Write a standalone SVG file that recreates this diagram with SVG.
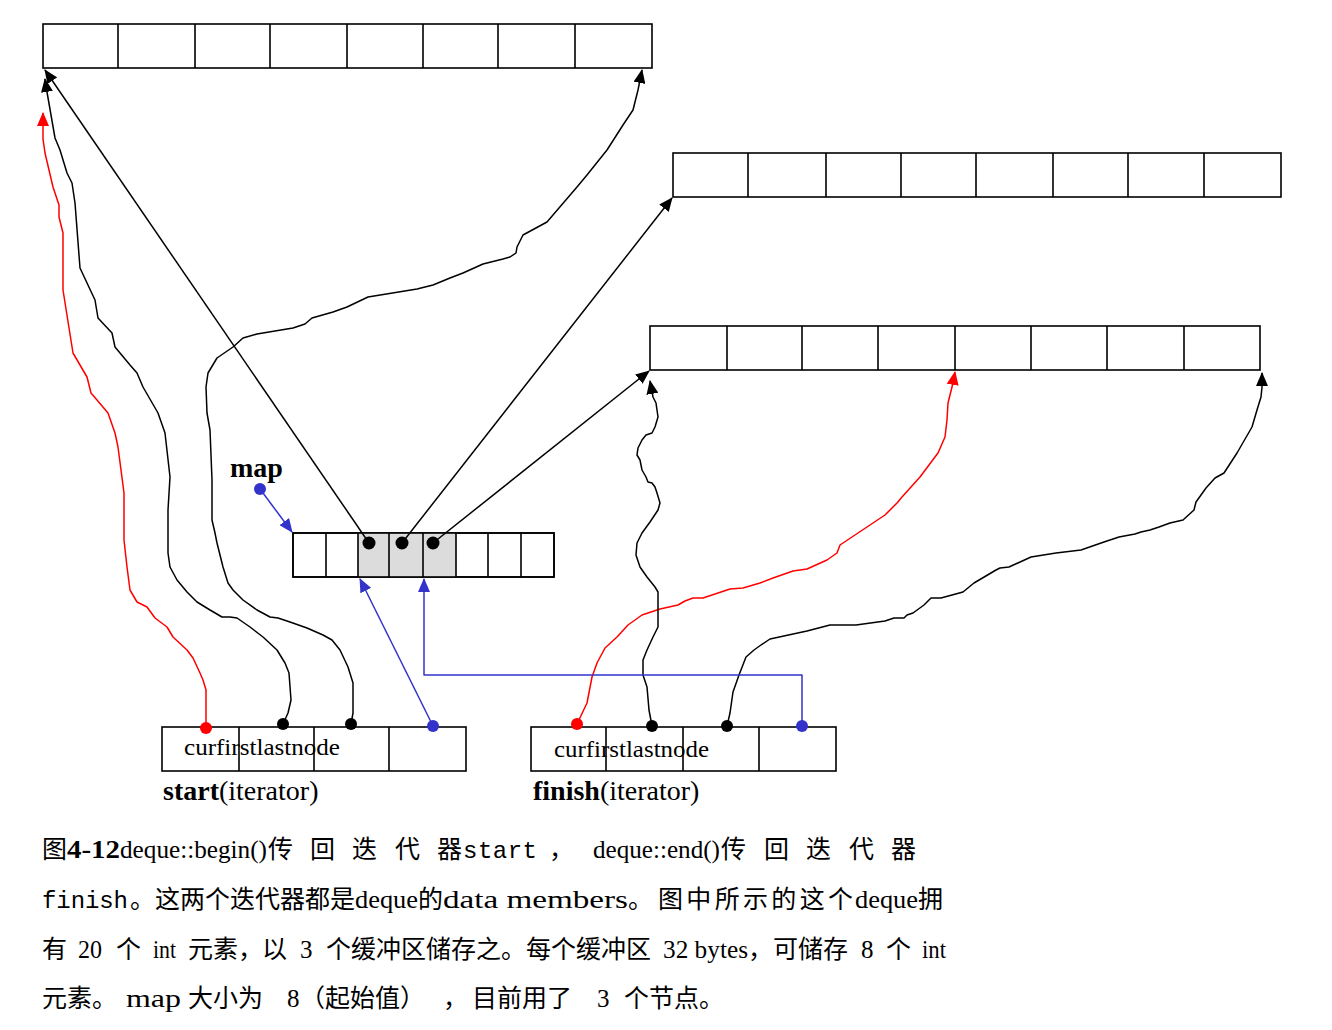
<svg xmlns="http://www.w3.org/2000/svg" width="1332" height="1030" viewBox="0 0 1332 1030">
<style>
.box{fill:#fff;stroke:#000;stroke-width:1.6}
.cell{stroke:#000;stroke-width:1.6}
.sh{fill:#dcdcdc}
.k{fill:none;stroke:#000;stroke-width:1.5;stroke-linejoin:round;marker-end:url(#aK)}
.r{fill:none;stroke:#f00;stroke-width:1.5;stroke-linejoin:round;marker-end:url(#aR)}
.b{fill:none;stroke:#3333cc;stroke-width:1.5;stroke-linejoin:round;marker-end:url(#aB)}
.dk{fill:#000}.dr{fill:#f00}.db{fill:#3333cc}
.se{font-family:"Liberation Serif","Times New Roman",serif;font-size:25px;fill:#000}
.sb{font-family:"Liberation Serif","Times New Roman",serif;font-size:25px;font-weight:bold;fill:#000}
.mo{font-family:"Liberation Mono","Courier New",monospace;font-size:24px;fill:#000}
.cj{font-family:"Noto Sans CJK SC","Noto Sans",sans-serif;font-size:25px;fill:#000}
.lb{font-family:"Liberation Serif","Times New Roman",serif;font-size:24px;fill:#000}
.big{font-family:"Liberation Serif","Times New Roman",serif;font-size:28px;fill:#000}
</style>
<defs>
<marker id="aK" markerWidth="14" markerHeight="12" refX="13" refY="6" orient="auto" markerUnits="userSpaceOnUse"><path d="M0,0 L14,6 L0,12 z" fill="#000"/></marker>
<marker id="aR" markerWidth="14" markerHeight="12" refX="13" refY="6" orient="auto" markerUnits="userSpaceOnUse"><path d="M0,0 L14,6 L0,12 z" fill="#f00"/></marker>
<marker id="aB" markerWidth="14" markerHeight="12" refX="13" refY="6" orient="auto" markerUnits="userSpaceOnUse"><path d="M0,0 L14,6 L0,12 z" fill="#3333cc"/></marker>
</defs>

<g id="buffer1">
<rect class="box" x="43" y="24" width="609" height="44"/>
<path class="cell" d="M118,24V68M195,24V68M270,24V68M347,24V68M423,24V68M498,24V68M575,24V68"/>
</g>
<g id="buffer2">
<rect class="box" x="673" y="153" width="608" height="44"/>
<path class="cell" d="M748,153V197M826,153V197M901,153V197M976,153V197M1053,153V197M1128,153V197M1204,153V197"/>
</g>
<g id="buffer3">
<rect class="box" x="650" y="326" width="610" height="44"/>
<path class="cell" d="M727,326V370M802,326V370M878,326V370M955,326V370M1031,326V370M1107,326V370M1184,326V370"/>
</g>
<g id="map">
<text class="big" x="230" y="477" font-weight="bold">map</text>
<rect class="box" x="293" y="533" width="261" height="44"/>
<rect class="sh" x="358" y="533" width="98" height="44"/>
<rect x="293" y="533" width="261" height="44" fill="none" stroke="#000" stroke-width="1.6"/>
<path class="cell" d="M326,533V577M358,533V577M389,533V577M423,533V577M456,533V577M488,533V577M521,533V577"/>
</g>
<g id="start">
<rect class="box" x="162" y="727" width="304" height="44"/>
<path class="cell" d="M239,727V771M314,727V771M389,727V771"/>
<text class="lb" x="184" y="755" textLength="156" lengthAdjust="spacingAndGlyphs">curfirstlastnode</text>
<text class="big" x="163" y="800"><tspan font-weight="bold">start</tspan>(iterator)</text>
</g>
<g id="finish">
<rect class="box" x="531" y="727" width="305" height="44"/>
<path class="cell" d="M606,727V771M683,727V771M759,727V771"/>
<text class="lb" x="554" y="757" textLength="155" lengthAdjust="spacingAndGlyphs">curfirstlastnode</text>
<text class="big" x="533" y="800"><tspan font-weight="bold">finish</tspan>(iterator)</text>
</g>

<g id="connectors">
<path class="r" d="M206,728 L206,690 203,680 200,673 193,658 187,650 173,637 167,627 155,618 147,607 137,602 130,590 127,567 124,540 124,493 118,447 115,433 108,413 97,400 91,393 87,377 73,353 63,290 63,233 59,217 59,205 53,187 45,153 43,139 43,113"/>
<path class="k" d="M283,724 L288,713 291,700 289,673 285,663 277,650 263,637 250,627 237,618 230,617 222,617 210,610 197,602 187,592 177,580 170,567 168,553 168,510 170,477 165,433 158,413 143,387 137,373 130,365 115,347 112,333 98,318 95,300 80,268 75,203 72,183 67,173 60,150 55,138 47,92 45,79"/>
<path class="k" d="M351,724 L353,713 353,683 348,667 340,650 332,640 323,635 307,628 290,622 278,618 270,617 257,610 243,600 233,590 228,583 223,567 217,543 215,533 212,520 212,480 210,430 207,413 206,387 208,373 217,358 233,347 243,338 257,334 293,328 305,324 312,318 333,312 347,307 368,297 417,289 433,285 450,278 463,273 483,264 503,259 510,257 516,253 517,247 523,235 547,222 553,215 577,187 587,175 607,150 623,125 633,110 638,90 642,70"/>
<path class="b" d="M433,726 L360,579"/>
<path class="k" d="M369,543 L45,70"/>
<path class="k" d="M402,543 L672,198"/>
<path class="k" d="M433,543 L649,371"/>
<path class="b" d="M260,489 L292,532"/>
<path class="r" d="M577,724 L587,703 592,677 597,663 605,648 617,637 628,625 642,615 660,609 678,605 685,601 693,598 703,598 730,589 743,588 760,583 773,578 793,571 807,569 827,560 837,553 840,545 885,515 897,503 902,497 920,477 938,453 945,437 947,420 948,403 953,383 955,372"/>
<path class="k" d="M652,726 L649,710 647,687 643,675 643,660 647,650 653,637 658,627 658,592 655,587 647,577 640,567 636,555 637,543 642,533 650,522 658,510 660,503 657,493 655,487 652,483 648,482 646,477 642,470 640,460 637,455 638,448 642,440 646,435 652,433 655,427 658,417 656,403 653,397 650,381"/>
<path class="k" d="M727,726 L730,713 733,692 739,675 746,657 754,650 761,645 770,639 807,631 830,625 856,625 885,621 894,618 904,618 907,615 913,613 924,605 931,598 941,598 963,592 974,583 996,570 1000,568 1009,567 1031,557 1056,553 1081,550 1104,542 1119,537 1135,534 1141,532 1150,530 1159,527 1170,523 1183,520 1194,510 1196,502 1206,488 1215,478 1224,473 1237,453 1252,427 1257,410 1261,397 1262,387 1262,373"/>
<path class="b" d="M802,726 L802,675 424,675 424,579"/>
<circle class="dk" cx="369" cy="543" r="6.5"/>
<circle class="dk" cx="402" cy="543" r="6.5"/>
<circle class="dk" cx="433" cy="543" r="6.5"/>
<circle class="db" cx="260" cy="489" r="6"/>
<circle class="dr" cx="206" cy="728" r="6"/>
<circle class="dk" cx="283" cy="724" r="6"/>
<circle class="dk" cx="351" cy="724" r="6"/>
<circle class="db" cx="433" cy="726" r="6"/>
<circle class="dr" cx="577" cy="724" r="6"/>
<circle class="dk" cx="652" cy="726" r="6"/>
<circle class="dk" cx="727" cy="726" r="6"/>
<circle class="db" cx="802" cy="726" r="6"/>
</g>

<g id="caption">
<text class="cj" x="42" y="858">图</text>
<text class="sb" x="67" y="858" textLength="53" lengthAdjust="spacingAndGlyphs">4-12</text>
<text class="se" x="120" y="858" textLength="147" lengthAdjust="spacingAndGlyphs">deque::begin()</text>
<text class="cj" y="858"><tspan x="268">传</tspan><tspan x="310">回</tspan><tspan x="352">迭</tspan><tspan x="395">代</tspan><tspan x="437">器</tspan></text>
<text class="mo" x="463" y="858" textLength="74">start</text>
<text class="cj" x="549" y="858">，</text>
<text class="se" x="593" y="858" textLength="127" lengthAdjust="spacingAndGlyphs">deque::end()</text>
<text class="cj" y="858"><tspan x="721">传</tspan><tspan x="764">回</tspan><tspan x="806">迭</tspan><tspan x="849">代</tspan><tspan x="891">器</tspan></text>

<text class="mo" x="42" y="908" textLength="86">finish</text>
<text class="cj" x="130" y="908" textLength="225">。这两个迭代器都是</text>
<text class="se" x="355" y="908" textLength="63" lengthAdjust="spacingAndGlyphs">deque</text>
<text class="cj" x="418" y="908">的</text>
<text class="se" x="443" y="908" textLength="185" lengthAdjust="spacingAndGlyphs">data members</text>
<text class="cj" x="628" y="908">。</text>
<text class="cj" x="658" y="908" textLength="195">图中所示的这个</text>
<text class="se" x="855" y="908" textLength="63" lengthAdjust="spacingAndGlyphs">deque</text>
<text class="cj" x="918" y="908">拥</text>

<text class="cj" x="42" y="958">有</text>
<text class="se" x="78" y="958" textLength="24" lengthAdjust="spacingAndGlyphs">20</text>
<text class="cj" x="116" y="958">个</text>
<text class="se" x="153" y="958" font-size="21" textLength="23" lengthAdjust="spacingAndGlyphs">int</text>
<text class="cj" x="188" y="958">元素，</text>
<text class="cj" x="262" y="958">以</text>
<text class="se" x="300" y="958">3</text>
<text class="cj" x="326" y="958">个缓冲区储存之。每个缓冲区</text>
<text class="se" x="663" y="958" textLength="85" lengthAdjust="spacingAndGlyphs">32 bytes</text>
<text class="cj" x="748" y="958">，</text>
<text class="cj" x="773" y="958">可储存</text>
<text class="se" x="861" y="958">8</text>
<text class="cj" x="886" y="958">个</text>
<text class="se" x="922" y="958" font-size="21" textLength="24" lengthAdjust="spacingAndGlyphs">int</text>

<text class="cj" x="42" y="1007">元素。</text>
<text class="se" x="126" y="1007" textLength="55" lengthAdjust="spacingAndGlyphs">map</text>
<text class="cj" x="188" y="1007">大小为</text>
<text class="se" x="287" y="1007">8</text>
<text class="cj" x="300" y="1007">（起始值）</text>
<text class="cj" x="443" y="1007">，</text>
<text class="cj" x="472" y="1007">目前用了</text>
<text class="se" x="597" y="1007">3</text>
<text class="cj" x="624" y="1007">个节点。</text>
</g>
</svg>
